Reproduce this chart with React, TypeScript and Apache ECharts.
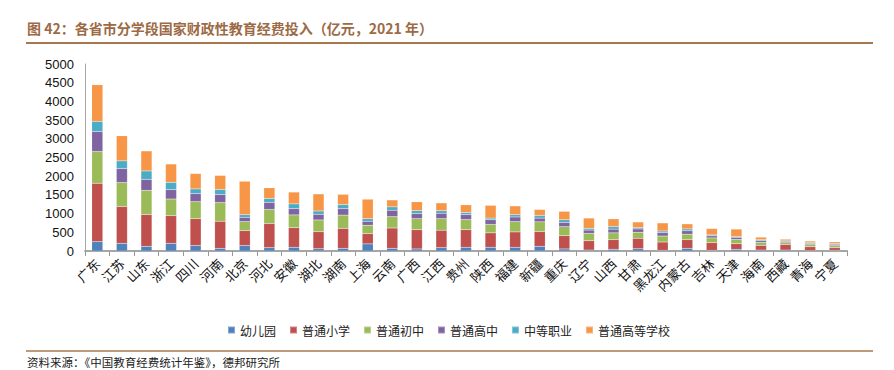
import React, { useEffect, useRef } from "react";
import * as echarts from "echarts";

const provinces = ["广东","江苏","山东","浙江","四川","河南","北京","河北","安徽","湖北","湖南","上海","云南","广西","江西","贵州","陕西","福建","新疆","重庆","辽宁","山西","甘肃","黑龙江","内蒙古","吉林","天津","海南","西藏","青海","宁夏"];
const kindergarten = [250,205,125,205,145,70,145,90,100,60,70,190,70,55,90,100,100,100,125,55,25,45,60,20,70,20,45,25,25,10,20];
const primary = [1560,985,850,740,720,725,400,645,525,455,535,275,545,515,465,470,385,410,395,355,250,260,280,220,235,205,150,125,150,105,70];
const junior = [850,640,645,445,455,500,240,375,340,315,355,225,305,295,310,270,225,275,260,240,195,180,160,160,145,125,115,80,45,55,55];
const senior = [535,375,295,250,215,215,115,190,170,150,170,105,170,135,145,135,125,125,100,115,90,100,90,90,90,55,55,45,25,25,35];
const vocational = [270,205,225,195,125,135,70,105,125,90,110,70,90,80,70,55,45,60,70,70,45,70,35,45,50,25,25,25,25,25,20];
const higher = [980,670,535,490,410,375,895,285,315,455,275,520,185,235,205,205,340,235,160,225,275,205,150,215,135,170,195,70,45,45,45];

const seriesNames = ["幼儿园","普通小学","普通初中","普通高中","中等职业","普通高等学校"];
const seriesColors = ["#4F81BD","#C0504D","#9BBB59","#8064A2","#4BACC6","#F79646"];
const yTicks = [0,500,1000,1500,2000,2500,3000,3500,4000,4500,5000];

const titleText = "图 42：各省市分学段国家财政性教育经费投入（亿元，2021 年）";
const sourceText = "资料来源：《中国教育经费统计年鉴》，德邦研究所";

export default function App() {
  const ref = useRef<HTMLDivElement>(null);
  useEffect(() => {
    if (!ref.current) return;
    const chart = echarts.init(ref.current, null, { renderer: "svg" });
    const data = [kindergarten, primary, junior, senior, vocational, higher];
    const cjk = '"Noto Sans CJK SC", sans-serif';
    chart.setOption({
      animation: false,
      backgroundColor: "#ffffff",
      grid: { left: 85, right: 47, top: 64, bottom: 119 },
      legend: {
        data: seriesNames,
        left: 222,
        top: 319,
        icon: "rect",
        itemWidth: 7,
        itemHeight: 7,
        itemGap: 13,
        textStyle: { fontFamily: cjk, fontSize: 12, color: "#222" },
      },
      xAxis: {
        type: "category",
        data: provinces,
        axisLine: { lineStyle: { color: "#A6A6A6", width: 2 } },
        axisTick: { show: true, length: 5, lineStyle: { color: "#999" } },
        axisLabel: { rotate: 45, fontFamily: cjk, fontSize: 13, color: "#111", margin: 10, interval: 0 },
      },
      yAxis: {
        type: "value",
        min: yTicks[0],
        max: yTicks[yTicks.length - 1],
        interval: 500,
        axisLine: { show: true, lineStyle: { color: "#A6A6A6", width: 1 } },
        axisTick: { show: false },
        splitLine: { show: false },
        axisLabel: {
          formatter: (v: number) => String(v),
          fontFamily: "Liberation Sans, Arial, sans-serif",
          fontSize: 13,
          color: "#111",
          margin: 11,
        },
      },
      series: seriesNames.map((name, i) => ({
        name,
        type: "bar",
        stack: "total",
        data: data[i],
        barWidth: 11,
        itemStyle: { color: seriesColors[i], borderColor: "rgba(255,255,255,0.3)", borderWidth: 0.4 },
      })),
      graphic: [
        {
          type: "text",
          left: 27,
          top: 21,
          style: { text: titleText, fontFamily: cjk, fontSize: 14, fontWeight: "bold", fill: "#9C6A45" },
        },
        {
          type: "line",
          shape: { x1: 26, y1: 43, x2: 873, y2: 43 },
          style: { stroke: "#A6784F", lineWidth: 2 },
        },
        {
          type: "line",
          shape: { x1: 26, y1: 351, x2: 873, y2: 351 },
          style: { stroke: "#A6784F", lineWidth: 1.5 },
        },
        {
          type: "text",
          x: 27,
          y: 362,
          style: { text: sourceText, fontFamily: cjk, fontSize: 11.5, fill: "#222", verticalAlign: "middle" },
        },
      ],
    });
    return () => chart.dispose();
  }, []);
  return <div ref={ref} style={{ position: "fixed", left: 0, top: 0, width: 894, height: 370 }} />;
}
